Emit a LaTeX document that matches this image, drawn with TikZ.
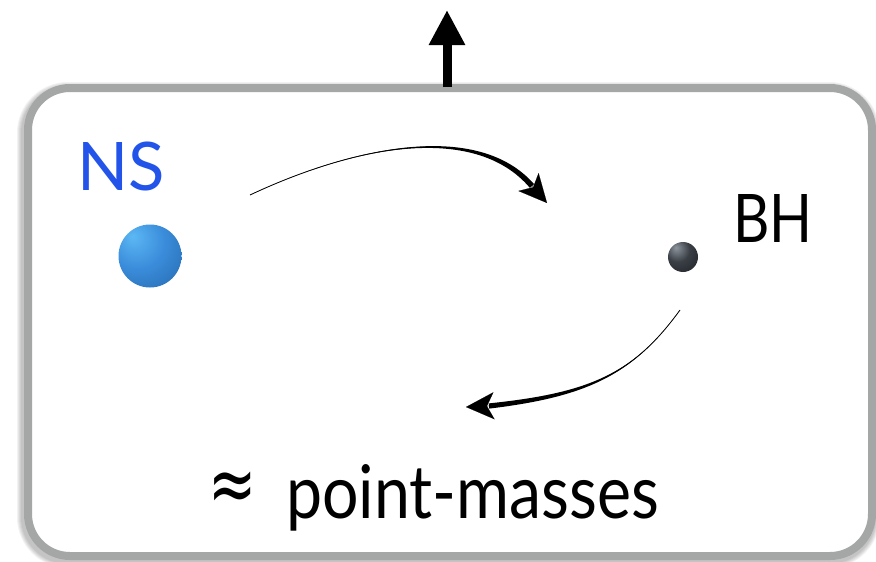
\documentclass[tikz,border=0pt]{standalone}
\usepackage{fontspec}
\setmainfont{Lato}
\newfontfamily\approxfont{DejaVu Sans}
\usetikzlibrary{arrows.meta,calc}

\definecolor{framegray}{HTML}{A4A7A5}
\definecolor{nsblue}{HTML}{2354EA}
\definecolor{nslight}{HTML}{5CB8F4}
\definecolor{nsmid}{HTML}{3A8CDA}
\definecolor{nsdark}{HTML}{1D5C9E}
\definecolor{bhlight}{HTML}{8E959C}
\definecolor{bhmid}{HTML}{3A3F46}
\definecolor{bhdark}{HTML}{15171A}

\pgfdeclareradialshading{nsshade}{\pgfpoint{-14bp}{16bp}}{%
  color(0bp)=(nslight); color(22bp)=(nsmid); color(55bp)=(nsdark); color(80bp)=(nsdark)}
\pgfdeclareradialshading{bhshade}{\pgfpoint{-12bp}{16bp}}{%
  color(0bp)=(bhlight); color(20bp)=(bhmid); color(55bp)=(bhdark); color(80bp)=(bhdark)}

\tikzset{
  frame/.style={draw=framegray, line width=8pt, fill=white, rounded corners=42pt,
    minimum width=844pt, minimum height=468pt, inner sep=0pt},
  ball/.style={circle, inner sep=0pt},
  label/.style={inner sep=0pt, anchor=base west},
  uparrow/.style={line width=9pt, -{Triangle[length=35pt,width=34pt]}},
  headtip/.style={line width=0.1pt, -{Stealth[length=28pt,width=27pt,inset=7pt]}},
}

\begin{document}
\begin{tikzpicture}[x=1pt,y=-1pt]
\useasboundingbox (0,0) rectangle (876,562);

% soft shadow under the frame
\foreach \w in {10,12,14,16,18}
  \draw[black, opacity=0.05, line width=\w pt, rounded corners=42pt] (26,91) rectangle (871,559);

\node[frame] (frame) at (450,322) {};

% outgoing arrow on top of the frame
\coordinate (top) at (447,10);
\draw[uparrow] ([xshift=-3pt,yshift=-3pt]frame.north) -- (top);

% the two bodies
\node[ball, minimum size=63pt, shading=nsshade] (ns) at (150,256) {};
\node[ball, minimum size=30pt, shading=bhshade] (bh) at (683,257) {};

\node[label, text=nsblue, font=\fontsize{67}{67}\selectfont] (nslabel) at (77,190) {NS};
\node[label, font=\fontsize{67}{67}\selectfont] (bhlabel) at (733,242) {\scalebox{0.84}[1]{BH}};
\node[label, font=\fontsize{74}{74}\selectfont] (caption) at (208,518)
  {\raisebox{6.5pt}{\scalebox{0.72}[1]{\approxfont\fontsize{80}{80}\selectfont ≈}}\hspace{29.7pt}\scalebox{0.87}[1]{point-masses}};

% orbit arrow from NS towards BH (tapered stroke)
\coordinate (s1) at (250,195);
\coordinate (c1a) at (350,148);
\coordinate (c1b) at (475,120);
\coordinate (e1) at (532,186);
\coordinate (t1) at (547,203);
\fill (s1) .. controls (c1a) and ($(c1b)!2pt!90:(e1)$) .. ($(e1)!2.8pt!-90:(c1b)$)
  -- ($(e1)!2.8pt!90:(c1b)$) .. controls ($(c1b)!2pt!-90:(e1)$) and (c1a) .. (s1) -- cycle;
\draw[line width=0.8pt] (s1) .. controls (c1a) and (c1b) .. (e1);
\draw[headtip] (e1) -- (t1);

% orbit arrow from BH back towards NS (tapered stroke)
\coordinate (s2) at (680,310);
\coordinate (c2a) at (633,375);
\coordinate (c2b) at (587,395);
\coordinate (e2) at (489,406);
\coordinate (t2) at (466,407);
\fill (s2) .. controls (c2a) and ($(c2b)!1.8pt!90:(e2)$) .. ($(e2)!2.6pt!-90:(c2b)$)
  -- ($(e2)!2.6pt!90:(c2b)$) .. controls ($(c2b)!1.8pt!-90:(e2)$) and (c2a) .. (s2) -- cycle;
\draw[line width=0.8pt] (s2) .. controls (c2a) and (c2b) .. (e2);
\draw[headtip] (e2) -- (t2);
\end{tikzpicture}
\end{document}
